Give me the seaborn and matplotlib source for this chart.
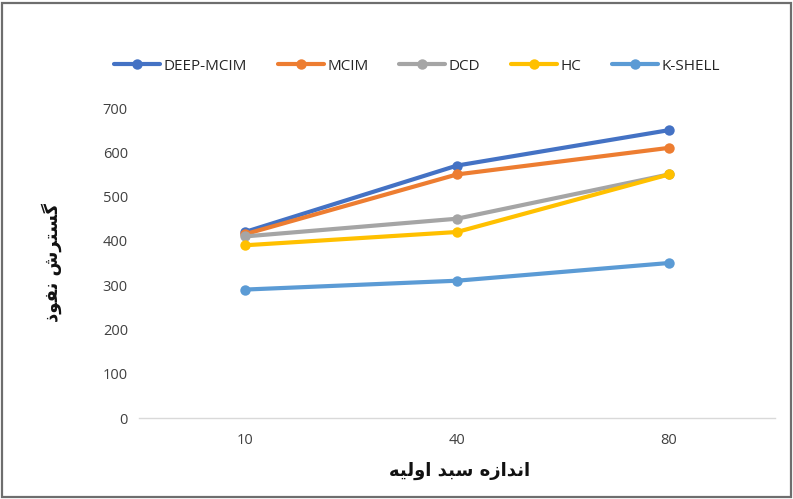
import matplotlib
matplotlib.use("Agg")
import matplotlib.pyplot as plt
import matplotlib.patches as mpatches
import seaborn as sns
import pandas as pd

# Seed-set sizes (categories) and spread values per algorithm
seed_sizes = ["10", "40", "80"]
deep_mcim = [420, 570, 650]
mcim = [415, 550, 610]
dcd = [410, 450, 550]
hc = [390, 420, 550]
k_shell = [290, 310, 350]

series_names = ["DEEP-MCIM", "MCIM", "DCD", "HC", "K-SHELL"]
series_values = [deep_mcim, mcim, dcd, hc, k_shell]
colors = ["#4472C4", "#ED7D31", "#A5A5A5", "#FFC000", "#5B9BD5"]
y_ticks = [0, 100, 200, 300, 400, 500, 600, 700]

# Persian axis titles written in shaped presentation forms, visual order
def visual(s):
    return s[::-1]

# اندازه سبد اولیه
x_title = visual("\uFE8D\uFEE7\uFEAA\uFE8D\uFEAF\uFEE9 \uFEB3\uFE92\uFEAA \uFE8D\uFEED\uFEDF\uFEF4\uFEEA")
# گسترش نفوذ
y_title = visual("\uFB94\uFEB4\uFE98\uFEAE\uFEB5 \uFEE7\uFED4\uFEEE\uFEAB")

rows = []
for name, vals in zip(series_names, series_values):
    for x, v in zip(seed_sizes, vals):
        rows.append({"size": x, "spread": v, "method": name})
df = pd.DataFrame(rows)

sns.set_theme(style="white")
plt.rcParams["font.family"] = ["Open Sans", "DejaVu Sans"]

fig = plt.figure(figsize=(7.93, 4.99), dpi=100)
ax = fig.add_axes([139 / 793, 1 - 418 / 499, 636 / 793, 310 / 499])

sns.lineplot(data=df, x="size", y="spread", hue="method", hue_order=series_names,
             palette=colors, marker="o", markersize=7.5, markeredgewidth=0,
             linewidth=3.0, ax=ax, sort=False, legend=True)

ax.set_xlim(-0.5, 2.5)
ax.set_ylim(0, 700)
ax.set_yticks(y_ticks)
ax.tick_params(axis="both", length=0, labelsize=10.5, labelcolor="#404040")
ax.tick_params(axis="y", pad=8)
ax.tick_params(axis="x", pad=11)
for s in ["top", "right", "left"]:
    ax.spines[s].set_visible(False)
ax.spines["bottom"].set_color("#D9D9D9")
ax.spines["bottom"].set_linewidth(1.0)
ax.grid(False)
ax.set_xlabel("")
ax.set_ylabel("")
ax.set_facecolor("none")

handles, labels = ax.get_legend_handles_labels()
ax.legend(handles, labels, loc="center left", bbox_to_anchor=(-31 / 636, 1 + 42 / 310),
          ncol=5, frameon=False, fontsize=11, handlelength=3.0, handletextpad=0.25,
          columnspacing=2.0, borderaxespad=0)

fig.text(460 / 793, 1 - 471 / 499, x_title, ha="center", va="center",
         fontsize=13, fontweight="bold", family=["DejaVu Sans"], color="#111111")
fig.text(52 / 793, 1 - 262 / 499, y_title, ha="center", va="center", rotation=90,
         fontsize=13, fontweight="bold", family=["DejaVu Sans"], color="#111111")

# Outer frame around the whole chart
fig.patches.append(mpatches.Rectangle((2 / 793, 2 / 499), 789 / 793, 494 / 499,
                                      transform=fig.transFigure, fill=False,
                                      edgecolor="#6E6E6E", linewidth=1.6))

fig.savefig("out.png", dpi=100)
